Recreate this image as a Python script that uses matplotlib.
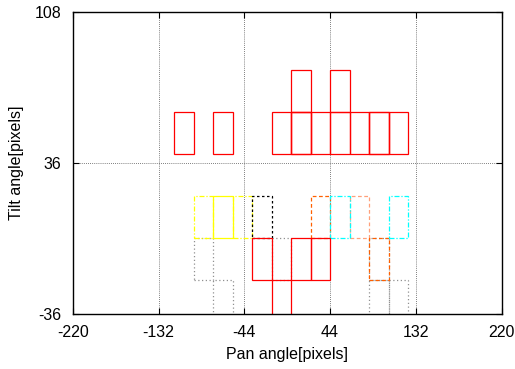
import matplotlib
matplotlib.use("Agg")
import matplotlib.pyplot as plt

plt.rcParams['font.family'] = ['Liberation Sans', 'DejaVu Sans']
plt.rcParams['axes.unicode_minus'] = False

# cell size of every rectangle (pan x tilt)
CELL_W = 20
CELL_H = 20

# lower-left corners (pan, tilt) of the cells, one list per series
red_x = [-116, -76, -16, 4, 4, 24, 44, 64, 84, 84, 104, 4, 44, -36, 4, 24, -16]
red_y = [40, 40, 40, 40, 40, 40, 40, 40, 40, 40, 40, 60, 60, -20, -20, -20, -40]

yellow_x = [-76]
yellow_y = [0]

yellow_dd_x = [-96, -56]
yellow_dd_y = [0, 0]

black_x = [-36]
black_y = [0]

orange_x = [24, 84]
orange_y = [0, -20]

cyan_x = [44, 104]
cyan_y = [0, 0]

salmon_x = [64]
salmon_y = [0]

gray_x = [-96, -76, -16, 84, 84, 104]
gray_y = [-20, -40, -20, -20, -40, -40]

series = [
    (gray_x, gray_y, '#909090', (0, (1, 2))),
    (yellow_dd_x, yellow_dd_y, '#ffff00', (0, (4, 1.5, 1, 1.5))),
    (yellow_x, yellow_y, '#ffff00', '-'),
    (black_x, black_y, '#000000', (0, (2, 2))),
    (salmon_x, salmon_y, '#ffa07a', (0, (3, 2))),
    (orange_x, orange_y, '#ff6000', (0, (3, 2))),
    (cyan_x, cyan_y, '#00ffff', (0, (4, 1.5, 1, 1.5))),
    (red_x, red_y, '#ff0000', '-'),
]

fig = plt.figure(figsize=(5.15, 3.69), dpi=100)
ax = fig.add_axes([0.1412, 0.1499, 0.8330, 0.8184])

for xs, ys, col, ls in series:
    ax.bar(xs, CELL_H, width=CELL_W, bottom=ys, align='edge',
           fill=False, edgecolor=col, linewidth=0.9, linestyle=ls)

ax.set_xlim(-220, 220)
ax.set_ylim(-36, 108)
ax.set_xticks([-220, -132, -44, 44, 132, 220])
ax.set_yticks([-36, 36, 108])
ax.grid(True, color='#555555', linestyle=(0, (1, 1.5)), linewidth=0.6)
ax.set_axisbelow(True)
ax.tick_params(direction='in', top=True, right=True, labelsize=11.5, length=4, width=0.8)
ax.tick_params(axis='x', pad=8)
ax.tick_params(axis='y', pad=8)
for sp in ax.spines.values():
    sp.set_linewidth(1.0)
ax.set_xlabel('Pan angle[pixels]', fontsize=11.5, labelpad=5)
ax.set_ylabel('Tilt angle[pixels]', fontsize=11.5, labelpad=8)

fig.savefig('out.png', dpi=100)
